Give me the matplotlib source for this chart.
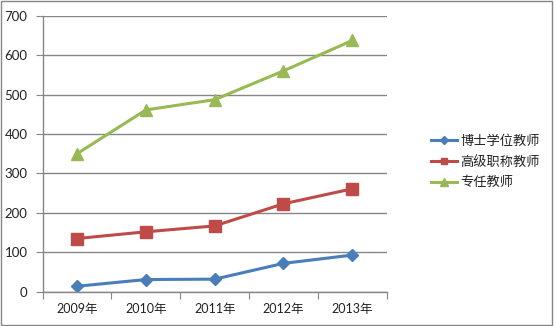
import matplotlib
matplotlib.use("Agg")
import matplotlib.pyplot as plt
from matplotlib.patches import Rectangle

plt.rcParams['font.family'] = ['Lato', 'Noto Sans CJK SC', 'DejaVu Sans']

years = ['2009年', '2010年', '2011年', '2012年', '2013年']
doctor = [14, 31, 32, 72, 93]
senior = [135, 152, 167, 223, 261]
fulltime = [350, 461, 487, 560, 637]
series_names = ['博士学位教师', '高级职称教师', '专任教师']
y_ticks = [0, 100, 200, 300, 400, 500, 600, 700]

fig = plt.figure(figsize=(5.54, 3.26), dpi=100)
fig.patches.append(Rectangle((0.002, 0.003), 0.995, 0.993, transform=fig.transFigure,
                             fill=False, edgecolor='#868686', linewidth=1.0))
ax = fig.add_axes([0.077, 0.105, 0.621, 0.847])

x = list(range(len(years)))
ax.plot(x, doctor, color='#4A7EBB', linewidth=2.2, marker='D', markersize=6.5,
        label=series_names[0])
ax.plot(x, senior, color='#BE4B48', linewidth=2.2, marker='s', markersize=8,
        label=series_names[1])
ax.plot(x, fulltime, color='#98B954', linewidth=2.2, marker='^', markersize=9,
        label=series_names[2])

ax.set_xlim(-0.5, len(years) - 0.5)
ax.set_ylim(0, 700)
ax.set_yticks(y_ticks)
ax.grid(axis='y', color='#868686', linewidth=1.0)
ax.set_axisbelow(True)

ax.set_xticks([i - 0.5 for i in range(len(years) + 1)])
ax.set_xticklabels([])
ax.set_xticks(x, minor=True)
ax.set_xticklabels(years, minor=True, fontsize=9, color='#222222')
ax.tick_params(axis='x', which='minor', length=0, pad=8)
ax.tick_params(axis='x', which='major', length=5, color='#868686', direction='out')
ax.tick_params(axis='y', length=5, color='#868686', direction='out', labelsize=9.5,
               labelcolor='#222222', pad=6)

for side in ['top', 'right']:
    ax.spines[side].set_visible(False)
for side in ['left', 'bottom']:
    ax.spines[side].set_color('#868686')
    ax.spines[side].set_linewidth(1.0)

leg = fig.legend(loc='center left', bbox_to_anchor=(0.778, 0.505), frameon=False,
                 fontsize=9.5, handlelength=2.0, handletextpad=0.25, labelspacing=0.6,
                 markerscale=0.6, borderpad=0, borderaxespad=0)
for t in leg.get_texts():
    t.set_color('#222222')

fig.savefig('out.png', dpi=100)
